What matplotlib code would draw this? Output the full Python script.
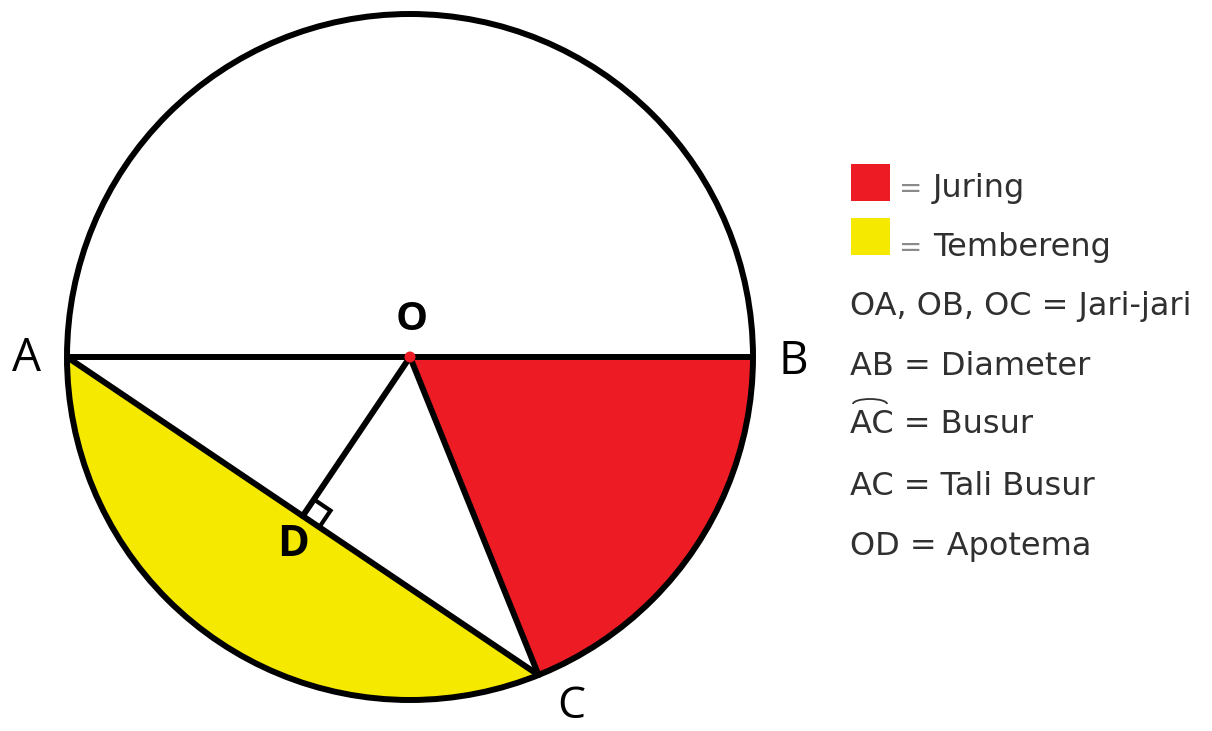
import numpy as np
import matplotlib
matplotlib.use("Agg")
import matplotlib.pyplot as plt
from matplotlib.patches import Circle, Wedge, Polygon, Rectangle, Arc

# ---- geometry (pixel space, y downward) ----
center = (410, 357)
radius = 343
angle_C = 68.0          # degrees, measured downward from OB
angle_A = 180.0
angle_B = 0.0

point_labels = ["A", "B", "C", "O", "D"]

legend_colors = ["#ED1C24", "#F5E900"]
legend_color_texts = ["Juring", "Tembereng"]
legend_lines = ["OA, OB, OC = Jari-jari", "AB = Diameter", "AC = Busur",
                "AC = Tali Busur", "OD = Apotema"]

RED = "#ED1C24"
YELLOW = "#F5E900"
TXT = "#303030"

fig = plt.figure(figsize=(12.12, 7.31), dpi=100)
ax = fig.add_axes([0, 0, 1, 1])
ax.set_xlim(0, 1212)
ax.set_ylim(731, 0)
ax.set_aspect("equal")
ax.axis("off")

cx, cy = center
def pt(deg):
    t = np.deg2rad(deg)
    return np.array([cx + radius * np.cos(t), cy + radius * np.sin(t)])

A = pt(angle_A); B = pt(angle_B); C = pt(angle_C); O = np.array(center, float)
D = (A + C) / 2

LW = 4.3
ax.add_patch(Circle(center, radius, facecolor="white", edgecolor="none", zorder=1))
# red sector (juring)
ax.add_patch(Wedge(center, radius, angle_B, angle_C, facecolor=RED, edgecolor="none", zorder=2))
# yellow segment (tembereng)
ts = np.linspace(angle_C, angle_A, 200)
arc_pts = np.array([pt(t) for t in ts])
ax.add_patch(Polygon(arc_pts, closed=True, facecolor=YELLOW, edgecolor="none", zorder=2))

# lines
def seg(P, Q):
    ax.plot([P[0], Q[0]], [P[1], Q[1]], color="black", lw=LW, solid_capstyle="round", zorder=3)
seg(A, B)
seg(A, C)
seg(O, C)
seg(O, D)

# right-angle marker at D
u = (C - A) / np.linalg.norm(C - A)
v = (O - D) / np.linalg.norm(O - D)
s = 20
sq = np.array([D + v * s, D + v * s + u * s, D + u * s])
ax.plot(sq[:, 0], sq[:, 1], color="black", lw=3.0, zorder=3, solid_joinstyle="miter")

ax.add_patch(Circle(center, radius, facecolor="none", edgecolor="black", lw=LW, zorder=4))
ax.add_patch(Circle(center, 5.5, facecolor=RED, edgecolor="none", zorder=5))

fam = ["Open Sans", "DejaVu Sans"]
ax.text(412, 319, point_labels[3], fontsize=29, fontweight="bold", family=fam, ha="center", va="center", color="black", zorder=6)
ax.text(27, 359, point_labels[0], fontsize=33, family=fam, ha="center", va="center", color="black")
ax.text(793, 362, point_labels[1], fontsize=33, family=fam, ha="center", va="center", color="black")
ax.text(571, 707, point_labels[2], fontsize=32, family=fam, ha="center", va="center", color="black")
ax.text(293, 544, point_labels[4], fontsize=31, fontweight="bold", family=fam, ha="center", va="center", color="black", zorder=6)

# legend
lfam = ["DejaVu Sans"]
sq_tops = [164, 218]
txt_base = [197, 256]
for i, (col, lab) in enumerate(zip(legend_colors, legend_color_texts)):
    ax.add_patch(Rectangle((851, sq_tops[i]), 39, 37, facecolor=col, edgecolor="none"))
    ax.text(899, txt_base[i], "=", fontsize=20, family=lfam, color="#8a8a8a", ha="left", va="baseline")
    ax.text(933, txt_base[i], lab, fontsize=23, family=lfam, color=TXT, ha="left", va="baseline")

line_base = [315, 375, 433, 495, 555]
for i, lab in enumerate(legend_lines):
    y = line_base[i]
    ax.text(850, y, lab, fontsize=23, family=lfam, color=TXT, ha="left", va="baseline")
    if i == 2:
        ax.add_patch(Arc((870, y - 29), 34, 10, theta1=180, theta2=360, color=TXT, lw=1.3))

fig.savefig("out.png", dpi=100)
